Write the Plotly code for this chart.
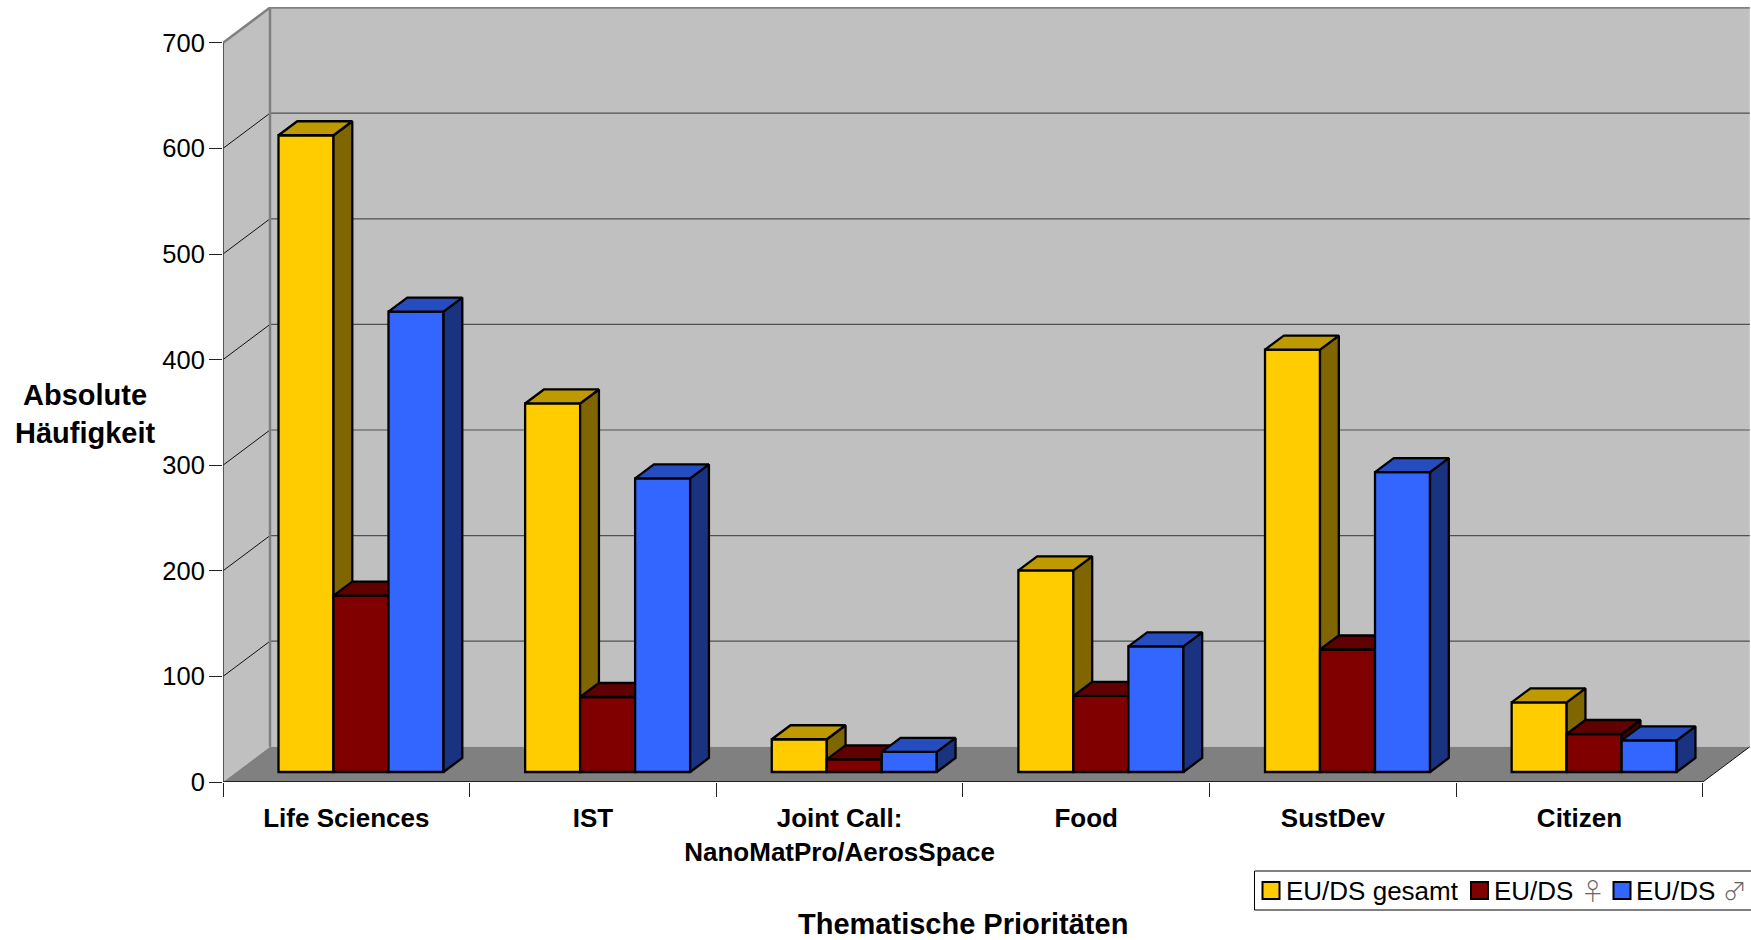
import plotly.graph_objects as go

# Priorities and head counts per group
categories = ["Life Sciences", "IST", "Joint Call:<br>NanoMatPro/AerosSpace", "Food", "SustDev", "Citizen"]
eu_ds_total = [603, 349, 31, 191, 400, 66]
eu_ds_female = [167, 71, 12, 72, 116, 36]
eu_ds_male = [436, 278, 19, 119, 284, 30]
value_ticks = [0, 100, 200, 300, 400, 500, 600, 700]

symbol_style = "font-family:'Noto Sans CJK JP';color:#666666;font-weight:300;font-size:24px"
series_names = ["EU/DS gesamt", f"EU/DS <span style=\"{symbol_style}\">♀</span>",
                f"EU/DS <span style=\"{symbol_style}\">♂</span>"]
FONT = "Liberation Sans"

# Pixel frame of the plotting area
W, H = 1751, 940
LEFT, TOP, BOTTOM = 223, 7, 782
PX_PER_CAT = 246.63
PX_PER_VAL = 1.056

# Pseudo-3D depth, expressed in axis units
WALL_DX, WALL_DY = 47 / PX_PER_CAT, 35.2 / PX_PER_VAL
BAR_LIFT = 10 / PX_PER_VAL
BAR_DX, BAR_DY = 18.8 / PX_PER_CAT, 14 / PX_PER_VAL
BAR_W = 55 / PX_PER_CAT
GROUP_START = 55.5 / PX_PER_CAT

x_max = (W - LEFT) / PX_PER_CAT
y_max = (BOTTOM - TOP) / PX_PER_VAL
x_end = len(categories)
y_top = value_ticks[-1]


def paper(px, py):
    return (px - LEFT) / (W - LEFT), 1 - (py - TOP) / (BOTTOM - TOP)


def poly(xs, ys, fill, line="rgba(0,0,0,0)", width=0, z=0):
    return go.Scatter(
        x=list(xs) + [xs[0]], y=list(ys) + [ys[0]], mode="lines", fill="toself",
        fillcolor=fill, line=dict(color=line, width=width), hoverinfo="skip",
        showlegend=False, zorder=z, cliponaxis=False,
    )


def path(xs, ys, color, width, z=0):
    return go.Scatter(
        x=xs, y=ys, mode="lines", line=dict(color=color, width=width),
        hoverinfo="skip", showlegend=False, zorder=z, cliponaxis=False,
    )


fig = go.Figure()

# Walls and floor
fig.add_trace(poly([WALL_DX, x_end + WALL_DX, x_end + WALL_DX, WALL_DX],
                   [WALL_DY, WALL_DY, y_top + WALL_DY, y_top + WALL_DY], "#c0c0c0"))
fig.add_trace(poly([0, WALL_DX, WALL_DX, 0], [0, WALL_DY, y_top + WALL_DY, y_top], "#c0c0c0"))
fig.add_trace(poly([0, x_end, x_end + WALL_DX, WALL_DX], [0, 0, WALL_DY, WALL_DY], "#808080"))

# Gridlines run across the side wall and the back wall
grid_x, grid_y = [], []
for v in value_ticks[1:-1]:
    grid_x += [0, WALL_DX, None]
    grid_y += [v, v + WALL_DY, None]
fig.add_trace(path(grid_x, grid_y, "#111111", 1))
grid_x, grid_y = [], []
for v in value_ticks[1:-1]:
    grid_x += [WALL_DX, x_end + WALL_DX, None]
    grid_y += [v + WALL_DY, v + WALL_DY, None]
fig.add_trace(path(grid_x, grid_y, "#505050", 1.2))

# Wall outline
fig.add_trace(path([0, WALL_DX, WALL_DX], [y_top, y_top + WALL_DY, WALL_DY], "#808080", 2.5))
fig.add_trace(path([WALL_DX, x_end + WALL_DX], [y_top + WALL_DY, y_top + WALL_DY], "#808080", 2.5))
fig.add_trace(path([x_end, x_end + WALL_DX], [0, WALL_DY], "#111111", 1))

# Bars: front face via a bar trace, side and top faces follow from the same values
series = [
    (series_names[0], eu_ds_total, "#ffcc00", "#806600", "#bf9900"),
    (series_names[1], eu_ds_female, "#800000", "#400000", "#600000"),
    (series_names[2], eu_ds_male, "#3366ff", "#1a3380", "#264dbf"),
]
centers = [i + 0.5 for i in range(len(categories))]

for s, (name, values, front, side, top) in enumerate(series):
    z = s + 1
    start = GROUP_START + s * BAR_W
    for i, v in enumerate(values):
        x0 = i + start
        x1 = x0 + BAR_W
        y1 = v + BAR_LIFT
        fig.add_trace(poly([x1, x1 + BAR_DX, x1 + BAR_DX, x1],
                           [BAR_LIFT, BAR_LIFT + BAR_DY, y1 + BAR_DY, y1],
                           side, "#000000", 2.3, z))
        fig.add_trace(poly([x0, x1, x1 + BAR_DX, x0 + BAR_DX],
                           [y1, y1, y1 + BAR_DY, y1 + BAR_DY],
                           top, "#000000", 2.3, z))
    fig.add_trace(go.Bar(
        x=centers, y=values, base=BAR_LIFT, name=name, width=BAR_W,
        offset=start - 0.5, marker=dict(color=front, line=dict(color="#000000", width=2.3)),
        showlegend=False, zorder=z,
    ))

fig.update_layout(
    width=W, height=H, autosize=False, barmode="overlay",
    margin=dict(l=LEFT, r=0, t=TOP, b=H - BOTTOM, pad=0),
    paper_bgcolor="white", plot_bgcolor="white",
    font=dict(family=FONT, color="#000000"),
    showlegend=False,
    xaxis=dict(
        range=[0, x_max], tickmode="array", tickvals=centers, ticktext=categories,
        ticks="", showgrid=False, zeroline=False, showline=False,
        tickfont=dict(family=FONT, size=26, color="#000000", weight="bold"), tickangle=0,
        ticklabelstandoff=18,
        minor=dict(tickmode="array", tickvals=list(range(len(categories) + 1)),
                   ticks="outside", ticklen=14, tickwidth=1, tickcolor="#222222", showgrid=False),
    ),
    yaxis=dict(
        range=[0, y_max], tickmode="array", tickvals=value_ticks,
        ticks="outside", ticklen=13, tickwidth=1, tickcolor="#222222",
        showgrid=False, zeroline=False, showline=False, ticklabelstandoff=-1,
        tickfont=dict(family=FONT, size=25.5, color="#000000"),
    ),
)

# Axis lines that stop where the front edge of the floor ends
fig.add_shape(type="line", x0=0, x1=x_end, y0=0, y1=0, line=dict(color="#000000", width=1.5), layer="above")
fig.add_shape(type="line", x0=0, x1=0, y0=0, y1=y_top, line=dict(color="#333333", width=1.5), layer="above")


def label(px, py, text, size, bold=False, anchor="center"):
    x, y = paper(px, py)
    fig.add_annotation(
        x=x, y=y, xref="paper", yref="paper", text=f"<b>{text}</b>" if bold else text,
        showarrow=False, xanchor=anchor, yanchor="middle", align="center",
        font=dict(family=FONT, size=size, color="#000000"),
    )


# Axis titles
label(85, 414, "Absolute<br>Häufigkeit", 29, True)
label(963, 924, "Thematische Prioritäten", 29, True)

# Legend box with swatches and text
x0, y0 = paper(1254.5, 871)
x1, y1 = paper(1760, 910)
fig.add_shape(type="rect", xref="paper", yref="paper", x0=x0, x1=x1, y0=y0, y1=y1,
              line=dict(color="#000000", width=1), fillcolor="white", layer="above")
swatch_left = [1262.5, 1471, 1613.5]
text_left = [1283.5, 1491.5, 1633.5]
text_mid = [891, 889, 889]
for (name, _, front, _, _), sx, tx, ty in zip(series, swatch_left, text_left, text_mid):
    a, b = paper(sx, 882)
    c, d = paper(sx + 17, 899)
    fig.add_shape(type="rect", xref="paper", yref="paper", x0=a, x1=c, y0=b, y1=d,
                  line=dict(color="#000000", width=2), fillcolor=front, layer="above")
    label(tx, ty, name, 26, False, "left")

fig.write_html("out.html")
